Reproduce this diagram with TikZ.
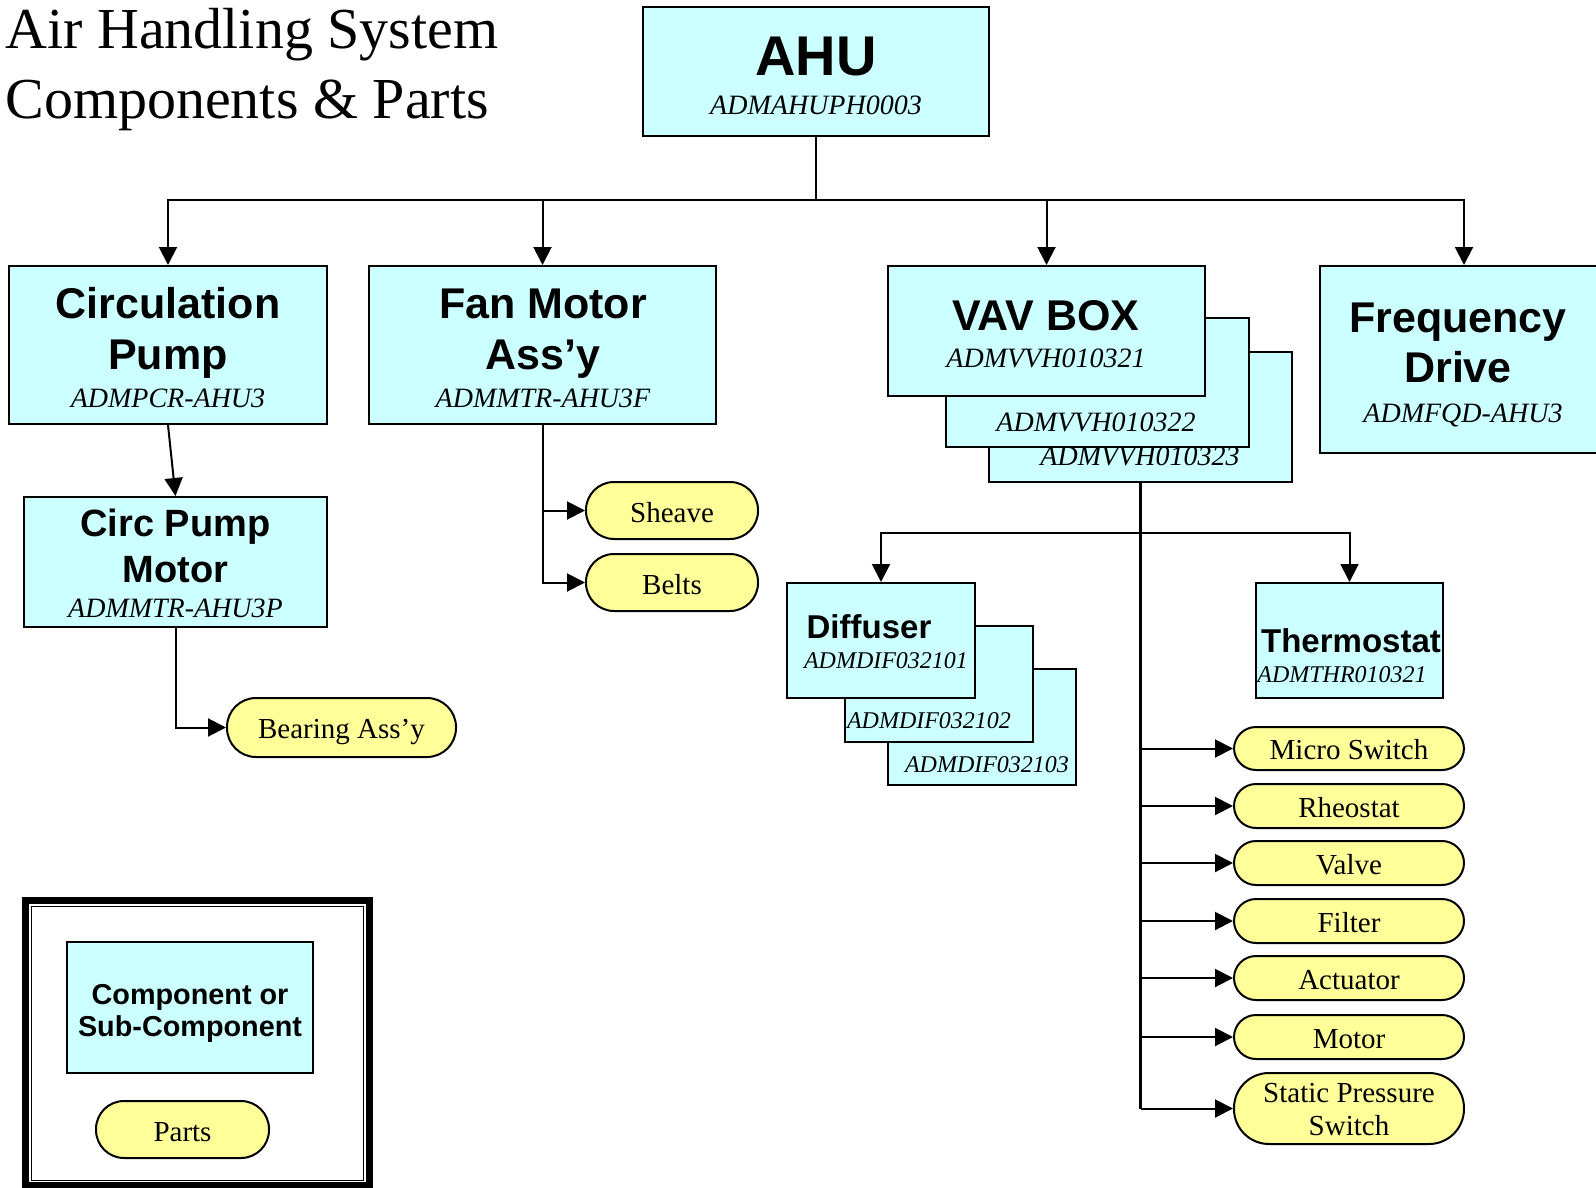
\documentclass[tikz,border=0pt]{standalone}
\usepackage{fontspec}
\setmainfont{Liberation Serif}
\newfontfamily\arialfont{Liberation Sans}
\usetikzlibrary{fit,arrows.meta}
\definecolor{compfill}{HTML}{CCFFFF}
\definecolor{partfill}{HTML}{FFFF99}
\tikzset{
  comp/.style={draw, fill=compfill, line width=1pt, inner sep=0pt},
  part/.style={draw, fill=partfill, line width=1pt, inner sep=0pt, rounded corners=#1},
  part/.default=11pt,
  conn/.style={line width=1pt},
  arr/.style={conn, -{Triangle[length=9pt,width=9pt]}},
  txt/.style={anchor=base, inner sep=0pt},
  tahu/.style={txt, font=\arialfont\bfseries\fontsize{28}{30}\selectfont},
  tbig/.style={txt, font=\arialfont\bfseries\fontsize{21.5}{24}\selectfont},
  tmid/.style={txt, font=\arialfont\bfseries\fontsize{19}{21}\selectfont},
  tsmall/.style={txt, font=\arialfont\bfseries\fontsize{16.5}{18}\selectfont},
  tleg/.style={txt, font=\arialfont\bfseries\fontsize{14.4}{16}\selectfont},
  codeL/.style={txt, font=\itshape\fontsize{14}{16}\selectfont},
  codeS/.style={txt, font=\itshape\fontsize{12}{14}\selectfont},
  ptxt/.style={txt, font=\fontsize{14.5}{16}\selectfont},
  ttl/.style={anchor=base west, inner sep=0pt, font=\fontsize{29}{32}\selectfont},
}
\begin{document}
\begin{tikzpicture}[x=0.5pt,y=-0.5pt]
\useasboundingbox (0,0) rectangle (1596,1188);
\clip (0,0) rectangle (1596,1188);
\fill[white] (0,0) rectangle (1596,1188);

% title
\node[ttl] (t1) at (5,49) {Air Handling System};
\node[ttl] (t2) at (5,119) {Components \& Parts};

% AHU
\node[comp, fit={(643,7)(989,136)}] (ahu) {};
\node[tahu] (ahuT) at (816,76) {AHU};
\node[codeL] (ahuC) at (816,115) {ADMAHUPH0003};

% Circulation pump
\node[comp, fit={(9,266)(327,424)}] (circ) {};
\node[tbig] (circT1) at (168,318) {Circulation};
\node[tbig] (circT2) at (168,369) {Pump};
\node[codeL] (circC) at (168,407) {ADMPCR-AHU3};

% Circ pump motor
\node[comp, fit={(24,497)(327,627)}] (cpm) {};
\node[tmid] (cpmT1) at (175.5,536) {Circ Pump};
\node[tmid] (cpmT2) at (175.5,582) {Motor};
\node[codeL] (cpmC) at (175.5,617) {ADMMTR-AHU3P};

% Bearing
\node[part=14.5pt, fit={(227,698)(456,757)}] (bear) {};
\node[ptxt] (bearT) at (341.5,738.5) {Bearing Ass’y};

% Fan motor
\node[comp, fit={(369,266)(716,424)}] (fan) {};
\node[tbig] (fanT1) at (543,318) {Fan Motor};
\node[tbig] (fanT2) at (543,369) {Ass’y};
\node[codeL] (fanC) at (543,407) {ADMMTR-AHU3F};

\node[part=14pt, fit={(586,482)(758,539)}] (sheave) {};
\node[ptxt] (sheaveT) at (672,522) {Sheave};
\node[part=14pt, fit={(586,554)(758,611)}] (belts) {};
\node[ptxt] (beltsT) at (672,594) {Belts};

% VAV boxes
\node[comp, fit={(989,352)(1292,482)}] (vav3) {};
\node[codeL] (vav3C) at (1140,465) {ADMVVH010323};
\node[comp, fit={(946,318)(1249,447)}] (vav2) {};
\node[codeL] (vav2C) at (1096,431) {ADMVVH010322};
\node[comp, fit={(888,266)(1205,396)}] (vav1) {};
\node[tbig] (vavT) at (1046,330) {VAV BOX};
\node[codeL] (vav1C) at (1046,367) {ADMVVH010321};

% Frequency drive
\node[comp, fit={(1320,266)(1608,453)}] (freq) {};
\node[tbig] (freqT1) at (1458,332) {Frequency};
\node[tbig] (freqT2) at (1458,382) {Drive};
\node[codeL] (freqC) at (1463,422) {ADMFQD-AHU3};

% Diffusers
\node[comp, fit={(888,669)(1076,785)}] (dif3) {};
\node[codeS] (dif3C) at (987,772) {ADMDIF032103};
\node[comp, fit={(845,626)(1033,742)}] (dif2) {};
\node[codeS] (dif2C) at (929,728) {ADMDIF032102};
\node[comp, fit={(787,583)(975,698)}] (dif1) {};
\node[tsmall] (difT) at (869,638) {Diffuser};
\node[codeS] (dif1C) at (886,668) {ADMDIF032101};

% Thermostat
\node[comp, fit={(1256,583)(1443,698)}] (thermo) {};
\node[tsmall] (thermoT) at (1351,652) {Thermostat};
\node[codeS] (thermoC) at (1342,682) {ADMTHR010321};

% VAV parts
\node[part, fit={(1234,727)(1464,770)}] (ms) {};
\node[ptxt] (msT) at (1349,759) {Micro Switch};
\node[part, fit={(1234,784)(1464,828)}] (rh) {};
\node[ptxt] (rhT) at (1349,817) {Rheostat};
\node[part, fit={(1234,841)(1464,885)}] (va) {};
\node[ptxt] (vaT) at (1349,874) {Valve};
\node[part, fit={(1234,899)(1464,943)}] (fi) {};
\node[ptxt] (fiT) at (1349,932) {Filter};
\node[part, fit={(1234,956)(1464,1000)}] (ac) {};
\node[ptxt] (acT) at (1349,989) {Actuator};
\node[part, fit={(1234,1015)(1464,1059)}] (mo) {};
\node[ptxt] (moT) at (1349,1048) {Motor};
\node[part=17.5pt, fit={(1234,1073)(1464,1144)}] (sps) {};
\node[ptxt] (spsT1) at (1349,1102) {Static Pressure};
\node[ptxt] (spsT2) at (1349,1135) {Switch};

% connectors: AHU tree
\coordinate (bus) at (816,200);
\draw[conn] (ahu.south) -- (bus);
\draw[arr] (bus) -| (circ.north);
\draw[arr] (bus) -| (fan.north);
\draw[arr] (bus) -| (vav1.north);
\draw[arr] (bus) -| (freq.north);

\draw[arr] (circ.south) -- (cpm.north);
\draw[arr] (cpm.south) |- (bear.west);
\draw[arr] (fan.south) |- (sheave.west);
\draw[arr] (fan.south) |- (belts.west);

% VAV tree
\draw[line width=1.4pt] (vav3.south) -- (vav3.south |- sps.west);
\coordinate (vbus) at (1140.5,533);
\draw[arr] (vbus) -| (dif1.north);
\draw[arr] (vbus) -| (thermo.north);
\foreach \p in {ms,rh,va,fi,ac,mo,sps}
  \draw[arr] (vav3.south |- \p.west) -- (\p.west);

% legend
\draw[line width=3.5pt] (25.5,900.5) rectangle (369.5,1185) coordinate (legO);
\draw[line width=0.6pt] (31.5,906.5) rectangle (363.5,1180.5) coordinate (legI);
\node[comp, fit={(67,942)(313,1073)}] (legC) {};
\node[tleg] (legT1) at (190,1004) {Component or};
\node[tleg] (legT2) at (190,1036) {Sub-Component};
\node[part=14pt, fit={(96,1101)(269,1158)}] (legP) {};
\node[ptxt] (legPT) at (182.5,1141) {Parts};
\end{tikzpicture}
\end{document}
